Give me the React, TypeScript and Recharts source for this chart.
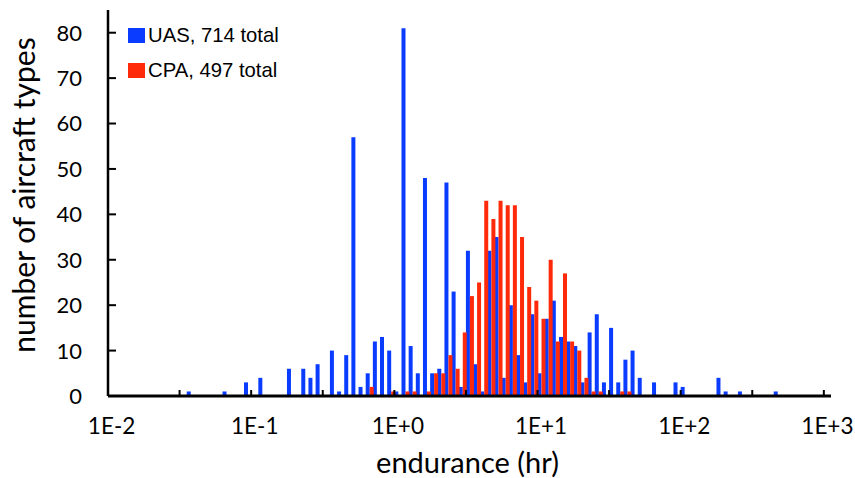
import React from "react";
import { BarChart, Bar, XAxis, YAxis, Legend } from "recharts";

// Histogram bins: log10(endurance in hours), 0.05-decade steps from 1E-2 to 1E+3
const binExponents: string[] = [
  "-2.00", "-1.95", "-1.90", "-1.85", "-1.80", "-1.75", "-1.70", "-1.65", "-1.60", "-1.55",
  "-1.50", "-1.45", "-1.40", "-1.35", "-1.30", "-1.25", "-1.20", "-1.15", "-1.10", "-1.05",
  "-1.00", "-0.95", "-0.90", "-0.85", "-0.80", "-0.75", "-0.70", "-0.65", "-0.60", "-0.55",
  "-0.50", "-0.45", "-0.40", "-0.35", "-0.30", "-0.25", "-0.20", "-0.15", "-0.10", "-0.05",
  "0.00", "0.05", "0.10", "0.15", "0.20", "0.25", "0.30", "0.35", "0.40", "0.45",
  "0.50", "0.55", "0.60", "0.65", "0.70", "0.75", "0.80", "0.85", "0.90", "0.95",
  "1.00", "1.05", "1.10", "1.15", "1.20", "1.25", "1.30", "1.35", "1.40", "1.45",
  "1.50", "1.55", "1.60", "1.65", "1.70", "1.75", "1.80", "1.85", "1.90", "1.95",
  "2.00", "2.05", "2.10", "2.15", "2.20", "2.25", "2.30", "2.35", "2.40", "2.45",
  "2.50", "2.55", "2.60", "2.65", "2.70", "2.75", "2.80", "2.85", "2.90", "2.95",
  "3.00",
];

// Unmanned aircraft types per bin
const uasCounts: number[] = [
  0, 0, 0, 0, 0, 0, 0, 0, 0, 0,
  0, 1, 0, 0, 0, 0, 1, 0, 0, 3,
  0, 4, 0, 0, 0, 6, 0, 6, 4, 7,
  0, 10, 1, 9, 57, 2, 5, 12, 13, 10,
  1, 81, 11, 5, 48, 5, 6, 47, 23, 2,
  32, 7, 1, 32, 35, 4, 20, 9, 3, 18,
  5, 17, 21, 13, 12, 11, 3, 14, 18, 3,
  15, 3, 8, 10, 4, 0, 3, 0, 0, 3,
  2, 0, 0, 0, 0, 4, 1, 0, 1, 0,
  0, 0, 0, 1, 0, 0, 0, 0, 0, 0,
  0,
];

// Crewed (piloted) aircraft types per bin
const cpaCounts: number[] = [
  0, 0, 0, 0, 0, 0, 0, 0, 0, 0,
  0, 0, 0, 0, 0, 0, 0, 0, 0, 0,
  0, 0, 0, 0, 0, 0, 0, 0, 0, 0,
  0, 0, 0, 0, 0, 0, 2, 0, 0, 1,
  0, 1, 1, 0, 1, 5, 5, 9, 6, 14,
  22, 25, 43, 39, 43, 42, 42, 35, 24, 21,
  17, 30, 12, 27, 12, 10, 4, 1, 1, 0,
  0, 1, 1, 0, 0, 0, 0, 0, 0, 0,
  0, 0, 0, 0, 0, 0, 0, 0, 0, 0,
  0, 0, 0, 0, 0, 0, 0, 0, 0, 0,
  0,
];

const xTickLabels: string[] = ["1E-2", "1E-1", "1E+0", "1E+1", "1E+2", "1E+3"];
const yTicks: number[] = [0, 10, 20, 30, 40, 50, 60, 70, 80];

const uasName = "UAS, 714 total";
const cpaName = "CPA, 497 total";
const UAS_COLOR = "#0a3cff";
const CPA_COLOR = "#ff2a0a";

const data = binExponents.map((bin, i) => ({
  bin,
  uas: uasCounts[i],
  cpa: cpaCounts[i],
}));

const WIDTH = 855;
const HEIGHT = 478;
const MARGIN = { top: 10, right: 24, left: 0, bottom: 0 };
const Y_AXIS_W = 108;
const X_AXIS_H = 82;
const BAND = (WIDTH - Y_AXIS_W - MARGIN.right) / binExponents.length;

const TICK_FONT = "Lato, 'Open Sans', sans-serif";

const XTick = (props: any) => {
  const { x, y, payload } = props;
  const idx = binExponents.indexOf(payload.value);
  const half = payload.offset ?? BAND / 2;
  return (
    <g>
      {idx > 0 && idx % 10 === 0 && (
        <line x1={x - half} x2={x - half} y1={y} y2={y - 6} stroke="#000" strokeWidth={2} />
      )}
      {idx % 20 === 0 && (
        <text
          x={x}
          y={y + 30}
          dy="0.36em"
          textAnchor="middle"
          fontFamily={TICK_FONT}
          fontSize={22.5}
          fill="#000"
        >
          {xTickLabels[idx / 20]}
        </text>
      )}
    </g>
  );
};

const YTick = (props: any) => {
  const { x, y, payload } = props;
  return (
    <g>
      <line x1={x} x2={x + 8} y1={y} y2={y} stroke="#000" strokeWidth={2} />
      <text
        x={x - 26}
        y={y}
        dy="0.36em"
        textAnchor="end"
        fontFamily={TICK_FONT}
        fontSize={22}
        fill="#000"
      >
        {payload.value}
      </text>
    </g>
  );
};

const XTitle = (props: any) => {
  const vb = props.viewBox || { x: Y_AXIS_W, y: HEIGHT - X_AXIS_H, width: 723, height: X_AXIS_H };
  return (
    <text
      x={vb.x + vb.width / 2 - 2}
      y={vb.y + 67}
      dy="0.36em"
      textAnchor="middle"
      fontFamily={TICK_FONT}
      fontSize={29}
      fill="#000"
    >
      endurance (hr)
    </text>
  );
};

const YTitle = (props: any) => {
  const vb = props.viewBox || { x: 0, y: MARGIN.top, width: Y_AXIS_W, height: 386 };
  const cx = vb.x + 24;
  const cy = vb.y + vb.height / 2 - 8;
  return (
    <text
      x={cx}
      y={cy}
      dy="0.36em"
      textAnchor="middle"
      transform={`rotate(-90 ${cx} ${cy})`}
      fontFamily={TICK_FONT}
      fontSize={30}
      fill="#000"
    >
      number of aircraft types
    </text>
  );
};

const legendItems = [
  { name: uasName, color: UAS_COLOR },
  { name: cpaName, color: CPA_COLOR },
];

const LegendBox = () => (
  <div style={{ fontFamily: "'Liberation Sans', Arial, sans-serif", fontSize: 20.3, color: "#000" }}>
    {legendItems.map((it) => (
      <div key={it.name} style={{ display: "flex", alignItems: "center", height: 35, whiteSpace: "nowrap" }}>
        <span
          style={{ display: "inline-block", width: 17, height: 15, background: it.color, marginRight: 3 }}
        />
        <span>{it.name}</span>
      </div>
    ))}
  </div>
);

export default function App() {
  return (
    <div style={{ position: "absolute", left: 0, top: 0, width: WIDTH, height: HEIGHT, background: "#fff" }}>
      <BarChart
        width={WIDTH}
        height={HEIGHT}
        data={data}
        margin={MARGIN}
        barCategoryGap={0}
        barGap={0}
      >
        <XAxis
          dataKey="bin"
          type="category"
          interval={0}
          height={X_AXIS_H}
          tickLine={false}
          tickSize={0}
          tickMargin={0}
          tick={<XTick />}
          axisLine={{ stroke: "#000", strokeWidth: 3 }}
          label={<XTitle />}
        />
        <XAxis
          xAxisId="top"
          orientation="top"
          dataKey="bin"
          type="category"
          height={0}
          tick={false}
          tickLine={false}
          axisLine={{ stroke: "#000", strokeWidth: 2 }}
        />
        <YAxis
          width={Y_AXIS_W}
          domain={[0, 85]}
          ticks={yTicks}
          interval={0}
          tickLine={false}
          tickSize={0}
          tickMargin={0}
          tick={<YTick />}
          axisLine={{ stroke: "#000", strokeWidth: 2.5 }}
          label={<YTitle />}
        />
        <YAxis
          yAxisId="right"
          orientation="right"
          width={0}
          domain={[0, 85]}
          tick={false}
          tickLine={false}
          axisLine={{ stroke: "#000", strokeWidth: 2 }}
        />
        <Legend
          layout="vertical"
          verticalAlign="middle"
          align="center"
          content={<LegendBox />}
          wrapperStyle={{ left: 128, top: 18, width: "auto", height: "auto" }}
        />
        <Bar dataKey="uas" name={uasName} fill={UAS_COLOR} isAnimationActive={false} />
        <Bar dataKey="cpa" name={cpaName} fill={CPA_COLOR} isAnimationActive={false} />
      </BarChart>
    </div>
  );
}
